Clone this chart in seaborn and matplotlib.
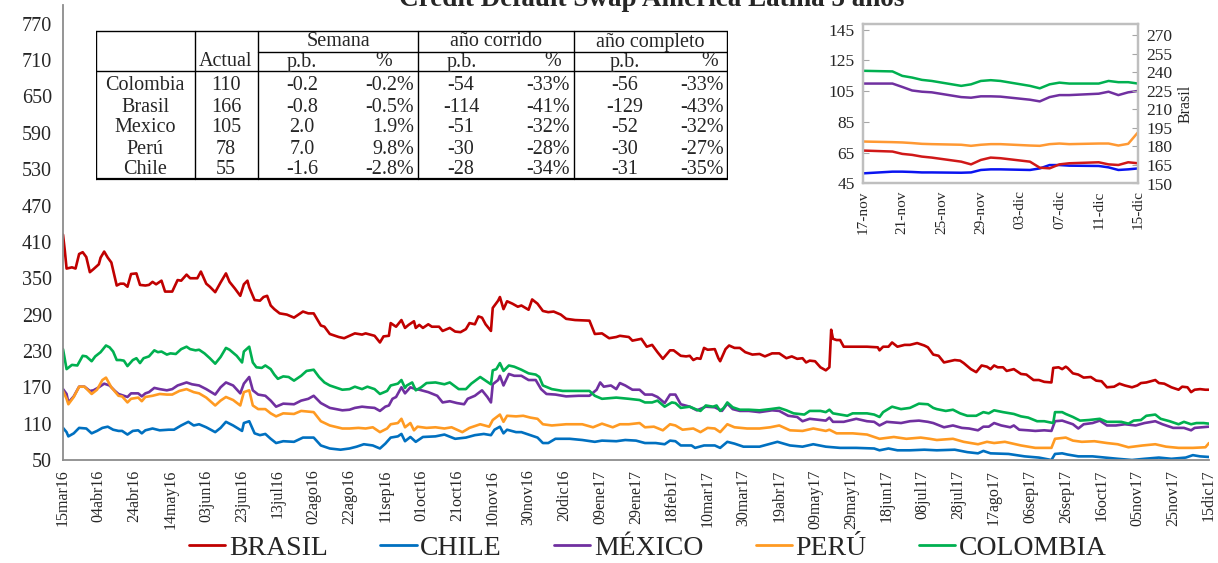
import pandas as pd
import numpy as np
import matplotlib.pyplot as plt
import seaborn as sns
from matplotlib.lines import Line2D

sns.set_style('white')
plt.rcParams['font.family'] = ['Liberation Serif', 'DejaVu Serif']

# --- datos serie principal (dias desde 15mar16, pb) ---
INICIO = pd.Timestamp('2016-03-15')

DIAS_BRASIL = [0, 1, 2, 5, 7, 9, 11, 13, 15, 17, 20, 21, 23, 25, 27, 30, 32, 34, 36, 38, 41, 43, 46, 48, 50, 52, 55, 57, 61, 64, 66, 69, 71, 75, 77, 80, 82, 85, 88, 91, 93, 96, 99, 101, 103, 104, 107, 110, 112, 114, 116, 118, 121, 125, 129, 134, 137, 140, 144, 146, 149, 154, 157,
               163, 167, 169, 174, 177, 179, 182, 183, 186, 189, 191, 193, 196, 197, 199, 201, 204, 206, 210, 212, 216, 219, 222, 225, 227, 230, 232, 234, 236, 239, 240, 241, 243, 244, 246, 248, 251, 254, 256, 260, 262, 265, 268, 271, 274, 278, 281, 286, 294, 297, 301, 305, 309, 311, 316, 318, 323,
               326, 329, 332, 335, 339, 341, 345, 348, 350, 352, 354, 356, 358, 360, 364, 366, 367, 370, 372, 375, 378, 381, 385, 389, 392, 396, 400, 404, 407, 410, 413, 415, 417, 420, 423, 426, 428, 429, 430, 432, 434, 436, 441, 449, 455, 456, 458, 461, 463, 466, 470, 473, 477, 481,
               483, 486, 489, 492, 495, 498, 501, 503, 507, 510, 513, 516, 518, 520, 522, 525, 527, 531, 535, 538, 542, 545, 548, 552, 553, 556, 558, 560, 561, 564, 567, 570, 574, 577, 580, 583, 587, 590, 593, 597, 600, 602, 605, 610, 612, 615, 619, 623, 625, 628, 630, 632, 635, 638, 640]
BRASIL = [422, 396, 366, 368, 366, 390, 393, 385, 360, 365, 373, 384, 394, 384, 376, 338, 341, 341, 336, 357, 358, 339, 338, 339, 344, 340, 346, 328, 328, 347, 346, 356, 350, 350, 361, 341, 336, 327, 343, 358, 344, 333, 321, 340, 346, 335, 314, 313, 319, 321, 305, 299, 292, 290, 285, 295, 292, 292, 272, 270, 258, 253, 251,
          259, 257, 259, 255, 244, 254, 255, 276, 270, 281, 268, 273, 279, 268, 273, 268, 274, 270, 270, 263, 268, 262, 261, 266, 276, 274, 287, 285, 274, 263, 301, 305, 313, 319, 299, 312, 308, 303, 305, 298, 315, 308, 296, 294, 295, 290, 283, 281, 280, 258, 259, 251, 253, 255, 253, 247, 250,
          237, 240, 228, 217, 231, 231, 222, 221, 222, 215, 218, 217, 235, 232, 233, 218, 213, 233, 239, 235, 235, 228, 224, 225, 221, 226, 226, 218, 221, 217, 218, 211, 214, 213, 203, 198, 203, 265, 250, 248, 248, 237, 237, 237, 236, 231, 237, 237, 244, 237, 240, 240, 243, 239,
          236, 224, 222, 211, 213, 215, 214, 210, 200, 195, 206, 204, 200, 206, 203, 203, 197, 200, 192, 191, 182, 182, 179, 178, 202, 203, 200, 204, 202, 193, 191, 186, 187, 181, 180, 170, 171, 176, 173, 170, 173, 177, 178, 182, 177, 176, 170, 166, 171, 170, 162, 166, 167, 166, 166]

DIAS_CHILE = [0, 2, 3, 6, 9, 13, 16, 19, 22, 25, 28, 31, 33, 36, 39, 42, 44, 46, 50, 54, 59, 62, 66, 70, 73, 76, 80, 85, 88, 91, 95, 100, 101, 104, 107, 110, 113, 116, 119, 123, 129, 134, 140, 144, 149, 155, 160,
              164, 168, 173, 177, 180, 183, 187, 189, 191, 194, 197, 201, 208, 213, 219, 225, 230, 235, 239, 241, 244, 246, 248, 253, 256, 261, 265, 268, 271, 275, 283, 290, 297, 301, 309, 314, 320,
              325, 331, 336, 339, 342, 345, 351, 353, 358, 364, 367, 371, 375, 380, 389, 399, 406, 413, 419, 426, 434, 443, 453, 456, 461, 466, 473, 481,
              488, 498, 505, 511, 514, 518, 528, 537, 545, 552, 554, 558, 561, 567, 575, 582, 589, 597, 604, 612, 619, 627, 631, 635, 640]
CHILE = [103, 96, 89, 94, 103, 102, 94, 98, 103, 105, 100, 98, 98, 92, 98, 99, 94, 99, 102, 99, 100, 100, 107, 113, 107, 109, 104, 96, 103, 113, 107, 98, 111, 114, 94, 91, 93, 85, 78, 81, 80, 87, 87, 74, 69, 67, 69,
         72, 76, 74, 69, 77, 87, 89, 93, 81, 88, 80, 88, 89, 92, 85, 87, 91, 93, 91, 100, 105, 94, 100, 96, 96, 91, 87, 78, 78, 85, 85, 83, 80, 82, 81, 83, 82,
         78, 78, 76, 82, 81, 74, 74, 70, 74, 74, 70, 80, 77, 72, 72, 80, 74, 72, 76, 72, 70, 70, 69, 66, 69, 66, 66, 67,
         66, 67, 63, 61, 65, 61, 60, 56, 54, 50, 60, 61, 59, 56, 56, 54, 52, 50, 52, 54, 52, 54, 58, 56, 55]

DIAS_MEXICO = [0, 2, 3, 6, 9, 12, 15, 17, 20, 23, 26, 29, 31, 34, 36, 38, 42, 44, 46, 48, 51, 54, 58, 61, 64, 69, 72, 76, 80, 85, 88, 91, 95, 99, 101, 104, 106, 109, 113, 116, 119, 123, 129, 133, 137, 140, 144, 149, 156, 160,
               163, 167, 170, 174, 177, 180, 182, 184, 186, 189, 191, 194, 197, 199, 204, 209, 212, 216, 220, 224, 226, 230, 234, 237, 239, 240, 243, 244, 246, 249, 252, 256, 260, 264, 267, 270, 275, 281, 288, 294, 298, 300, 302, 306, 309, 311, 314, 318, 322,
               325, 329, 332, 336, 339, 342, 345, 350, 354, 359, 364, 368, 371, 374, 378, 383, 389, 396, 400, 405, 410, 413, 417, 423, 426, 428, 430, 436, 443, 449, 453, 456, 460, 468, 473, 478, 483,
               486, 492, 497, 502, 506, 511, 514, 517, 520, 524, 529, 531, 534, 539, 543, 548, 552, 554, 558, 560, 564, 567, 570, 575, 579, 583, 588, 593, 599, 604, 610, 614, 620, 626, 630, 632, 636, 640]
MEXICO = [167, 159, 145, 155, 171, 171, 164, 165, 170, 176, 173, 164, 159, 156, 154, 160, 160, 155, 160, 162, 169, 167, 165, 167, 173, 178, 175, 173, 167, 158, 170, 178, 173, 160, 176, 187, 165, 158, 156, 148, 138, 143, 142, 148, 151, 156, 144, 136, 132, 133,
          136, 138, 137, 136, 131, 138, 140, 151, 154, 170, 160, 170, 167, 166, 162, 156, 145, 147, 144, 142, 151, 156, 165, 154, 145, 175, 182, 189, 173, 192, 189, 189, 182, 182, 167, 159, 158, 155, 156, 156, 166, 178, 171, 173, 167, 177, 173, 166, 166,
          158, 158, 154, 144, 158, 158, 142, 138, 132, 138, 137, 131, 143, 134, 131, 131, 129, 132, 131, 123, 121, 114, 118, 116, 115, 120, 113, 113, 118, 114, 113, 107, 113, 111, 114, 115, 113,
          111, 104, 107, 103, 102, 99, 105, 105, 111, 107, 104, 107, 100, 99, 98, 99, 98, 114, 115, 113, 109, 102, 109, 111, 115, 107, 107, 109, 107, 111, 114, 109, 103, 103, 99, 103, 104, 105]

DIAS_PERU = [0, 2, 3, 6, 9, 12, 16, 19, 22, 24, 27, 31, 33, 36, 38, 42, 44, 46, 50, 54, 58, 61, 65, 69, 73, 76, 80, 85, 88, 91, 95, 99, 101, 104, 106, 109, 113, 116, 119, 123, 129, 133, 140, 144, 149, 156, 160,
             165, 169, 173, 177, 181, 183, 187, 189, 191, 194, 196, 198, 203, 208, 213, 217, 223, 227, 233, 238, 240, 244, 246, 248, 253, 257, 261, 265, 268, 273, 281, 290, 296, 301, 307, 311, 316, 322,
             325, 330, 335, 339, 342, 346, 352, 356, 360, 364, 367, 371, 375, 382, 389, 395, 400, 406, 413, 419, 426, 428, 432, 441, 449, 456, 464, 471, 479, 484,
             488, 497, 503, 511, 516, 520, 526, 535, 543, 552, 554, 560, 564, 569, 576, 583, 589, 595, 603, 610, 616, 623, 631, 638, 640]
PERU = [164, 151, 142, 154, 171, 171, 159, 166, 182, 186, 170, 156, 155, 145, 151, 153, 147, 154, 156, 159, 158, 158, 164, 167, 162, 160, 153, 140, 148, 154, 149, 140, 162, 165, 140, 134, 134, 127, 122, 127, 126, 131, 129, 114, 107, 102, 102,
        103, 102, 104, 96, 102, 109, 111, 118, 104, 111, 99, 105, 103, 104, 102, 104, 96, 103, 109, 105, 116, 125, 113, 123, 122, 123, 120, 118, 109, 107, 109, 109, 104, 110, 104, 109, 109, 111,
        104, 105, 99, 109, 107, 100, 102, 96, 103, 102, 96, 109, 104, 102, 102, 104, 107, 99, 98, 102, 98, 100, 94, 94, 92, 85, 88, 85, 87, 85,
        83, 85, 80, 76, 80, 78, 80, 74, 70, 70, 85, 87, 82, 80, 81, 78, 76, 71, 74, 76, 72, 70, 70, 71, 78]

DIAS_COLOMBIA = [0, 2, 5, 8, 11, 13, 16, 18, 21, 24, 26, 28, 30, 32, 34, 36, 39, 41, 43, 45, 48, 51, 53, 55, 58, 60, 63, 66, 69, 71, 74, 76, 79, 82, 85, 88, 91, 93, 97, 100, 101, 104, 106, 108, 111, 113, 116, 118, 120, 123, 126, 129, 133, 136, 140, 143, 146, 149, 153, 156, 160,
                 163, 167, 170, 174, 177, 181, 183, 187, 189, 191, 192, 195, 197, 200, 203, 208, 213, 216, 221, 225, 228, 233, 236, 239, 240, 242, 244, 246, 249, 252, 256, 260, 264, 266, 268, 273, 279, 286, 294, 297, 301, 309, 316, 322,
                 325, 329, 332, 336, 340, 342, 345, 350, 354, 356, 359, 363, 365, 367, 369, 371, 374, 378, 383, 389, 395, 400, 404, 408, 414, 417, 423, 426, 428, 430, 434, 438, 441, 449, 453, 456, 458, 463, 468, 473, 478, 483,
                 486, 488, 493, 497, 501, 505, 510, 514, 517, 520, 525, 531, 535, 539, 544, 548, 553, 554, 558, 560, 564, 568, 573, 579, 583, 588, 591, 595, 598, 602, 605, 610, 613, 618, 623, 626, 630, 633, 637, 640]
COLOMBIA = [233, 200, 207, 206, 222, 221, 213, 221, 228, 239, 236, 229, 215, 215, 214, 205, 215, 218, 210, 218, 221, 231, 228, 229, 224, 226, 225, 233, 237, 233, 231, 232, 226, 218, 209, 220, 235, 232, 222, 211, 229, 237, 211, 203, 202, 206, 200, 191, 184, 188, 187, 181, 189, 197, 199, 187, 178, 173, 169, 166, 167,
            171, 167, 171, 167, 159, 164, 173, 176, 182, 169, 173, 178, 165, 170, 177, 178, 175, 178, 167, 167, 176, 187, 181, 175, 198, 200, 210, 197, 206, 204, 199, 193, 191, 187, 173, 167, 164, 164, 164, 156, 151, 153, 151, 149,
            145, 145, 148, 138, 145, 144, 136, 138, 133, 131, 140, 138, 140, 131, 136, 145, 137, 133, 133, 132, 134, 136, 132, 127, 125, 131, 131, 129, 133, 127, 125, 123, 127, 127, 125, 121, 129, 138, 134, 136, 143, 142,
            136, 134, 131, 133, 127, 123, 123, 129, 127, 132, 129, 126, 122, 120, 114, 114, 111, 129, 129, 126, 121, 115, 116, 118, 113, 113, 113, 110, 115, 116, 123, 125, 118, 114, 109, 113, 109, 111, 111, 110]

PAISES = ['BRASIL', 'CHILE', 'MÉXICO', 'PERÚ', 'COLOMBIA']
COLORES = {'BRASIL': '#C00000', 'CHILE': '#0070C0', 'MÉXICO': '#7030A0',
           'PERÚ': '#FF9A22', 'COLOMBIA': '#00B050'}

ETIQ_X = ['15mar16', '04abr16', '24abr16', '14may16', '03jun16', '23jun16', '13jul16',
          '02ago16', '22ago16', '11sep16', '01oct16', '21oct16', '10nov16', '30nov16',
          '20dic16', '09ene17', '29ene17', '18feb17', '10mar17', '30mar17', '19abr17',
          '09may17', '29may17', '18jun17', '08jul17', '28jul17', '17ago17', '06sep17',
          '26sep17', '16oct17', '05nov17', '25nov17', '15dic17']

# --- recuadro: ultimo mes ---
INICIO_Z = pd.Timestamp('2017-11-17')
DIAS_Z = [0, 3, 4, 5, 6, 7, 10, 11, 12, 13, 14, 17, 18, 19, 20, 21, 24, 25, 26, 27, 28]
COLOMBIA_Z = [118.3, 117.9, 115.0, 113.9, 112.4, 111.7, 108.5, 109.5, 111.7, 112.2, 111.7, 108.5, 106.9, 109.5, 110.6, 110.0, 110.0, 111.7, 110.9, 110.9, 110.0]
MEXICO_Z = [110.0, 110.0, 107.8, 105.5, 104.7, 104.3, 101.2, 100.8, 101.7, 101.7, 101.5, 99.5, 98.4, 101.2, 102.5, 102.5, 103.4, 104.7, 102.5, 104.3, 105.2]
PERU_Z = [72.3, 71.9, 71.7, 71.3, 70.8, 70.6, 70.2, 69.5, 70.2, 70.6, 70.6, 69.7, 69.5, 70.6, 71.0, 70.6, 71.0, 71.0, 69.7, 70.8, 78.3]
CHILE_Z = [51.6, 52.7, 52.7, 52.5, 52.2, 52.2, 52.0, 52.2, 53.8, 54.2, 54.2, 53.8, 54.8, 57.0, 57.0, 56.6, 56.4, 55.5, 53.8, 54.2, 54.8]
BRASIL_Z = [176.7, 175.9, 174.0, 173.2, 171.8, 171.0, 167.7, 165.5, 169.1, 171.0, 170.5, 167.7, 162.8, 162.3, 165.5, 166.4, 167.2, 165.5, 165.0, 167.2, 166.4]
COLORES_Z = {'COLOMBIA': '#00B050', 'MÉXICO': '#7030A0', 'PERÚ': '#FF9933',
             'CHILE': '#0A14F0', 'BRASIL': '#D01818'}
ETIQ_Z = ['17-nov', '21-nov', '25-nov', '29-nov', '03-dic', '07-dic', '11-dic', '15-dic']

# --- tabla ---
TAB_PAIS = ['Colombia', 'Brasil', 'Mexico', 'Perú', 'Chile']
TAB_ACTUAL = ['110', '166', '105', '78', '55']
TAB_SEM_PB = ['-0.2', '-0.8', '2.0', '7.0', '-1.6']
TAB_SEM_PCT = ['-0.2%', '-0.5%', '1.9%', '9.8%', '-2.8%']
TAB_AC_PB = ['-54', '-114', '-51', '-30', '-28']
TAB_AC_PCT = ['-33%', '-41%', '-32%', '-28%', '-34%']
TAB_ACO_PB = ['-56', '-129', '-52', '-30', '-31']
TAB_ACO_PCT = ['-33%', '-43%', '-32%', '-27%', '-35%']


def armar(inicio, pares):
    partes = []
    for nombre, dias, vals in pares:
        partes.append(pd.DataFrame({'fecha': inicio + pd.to_timedelta(dias, unit='D'),
                                    'cds': vals, 'pais': nombre}))
    return pd.concat(partes, ignore_index=True)


df = armar(INICIO, [('BRASIL', DIAS_BRASIL, BRASIL), ('CHILE', DIAS_CHILE, CHILE),
                    ('MÉXICO', DIAS_MEXICO, MEXICO), ('PERÚ', DIAS_PERU, PERU),
                    ('COLOMBIA', DIAS_COLOMBIA, COLOMBIA)])

W, H = 1218, 563
fig = plt.figure(figsize=(W / 100, H / 100), dpi=100)

# 1. Grafico principal
ax = fig.add_axes([63 / W, 1 - 460 / H, (1209 - 63) / W, (460 - 5) / H])
sns.lineplot(data=df, x='fecha', y='cds', hue='pais', hue_order=PAISES, palette=COLORES,
             linewidth=1.9, estimator=None, legend=False, ax=ax)
pos_x = pd.date_range(INICIO, periods=len(ETIQ_X), freq='20D')
ax.set_xlim(pos_x[0], pos_x[-1])
ax.set_xticks(pos_x)
ax.set_xticklabels(ETIQ_X, rotation=90)
ax.set_ylim(50, 801)
ax.set_yticks(range(50, 771, 60))
ax.set_xlabel('')
ax.set_ylabel('')
for lado in ['top', 'right']:
    ax.spines[lado].set_visible(False)
for lado in ['left', 'bottom']:
    ax.spines[lado].set_color('#8C8C8C')
    ax.spines[lado].set_linewidth(1.3)
ax.tick_params(direction='in', length=6, width=1.2, color='#8C8C8C')
ax.tick_params(axis='x', labelsize=11.5, pad=7)
ax.tick_params(axis='y', labelsize=14.5, pad=8)

fig.text(0.535, 1 - 6 / H, 'Credit Default Swap América Latina 5 años', ha='center',
         va='baseline', fontsize=19.5, fontweight='bold')

manejadores = [Line2D([], [], color=COLORES[p], lw=2) for p in PAISES]
fig.legend(manejadores, PAISES, loc='center', bbox_to_anchor=(0.532, 0.027), ncol=5,
           frameon=False, fontsize=20, handlelength=1.3, handletextpad=0.12, columnspacing=1.9)

# 2. Tabla
tab = fig.add_axes([96 / W, 1 - 181 / H, (728 - 96) / W, (181 - 30) / H])
tab.set_xlim(96, 728)
tab.set_ylim(181, 30)
tab.axis('off')
k = dict(color='black', lw=1.0)
tab.plot([96, 727], [31, 31], **k)
tab.plot([96, 727], [71, 71], **k)
tab.plot([258, 727], [52, 52], **k)
tab.plot([96, 727], [179, 179], color='black', lw=1.6)
for xv in [96, 195, 258, 418, 574, 727]:
    tab.plot([xv, xv], [31, 179], **k)
fs = 14.5
tab.text(338, 42, 'Semana', ha='center', va='center', fontsize=fs)
tab.text(496, 42, 'año corrido', ha='center', va='center', fontsize=fs)
tab.text(650, 42, 'año completo', ha='center', va='center', fontsize=fs)
for xx, tx in [(226, 'Actual'), (302, 'p.b.'), (384, '%'), (462, 'p.b.'),
               (553, '%'), (625, 'p.b.'), (710, '%')]:
    tab.text(xx, 62, tx, ha='center', va='center', fontsize=fs)
filas_y = [86, 107, 128, 149, 170]
for i, yy in enumerate(filas_y):
    tab.text(145, yy, TAB_PAIS[i], ha='center', va='center', fontsize=fs)
    tab.text(226, yy, TAB_ACTUAL[i], ha='center', va='center', fontsize=fs)
    tab.text(302, yy, TAB_SEM_PB[i], ha='center', va='center', fontsize=fs)
    tab.text(414, yy, TAB_SEM_PCT[i], ha='right', va='center', fontsize=fs)
    tab.text(461, yy, TAB_AC_PB[i], ha='center', va='center', fontsize=fs)
    tab.text(570, yy, TAB_AC_PCT[i], ha='right', va='center', fontsize=fs)
    tab.text(625, yy, TAB_ACO_PB[i], ha='center', va='center', fontsize=fs)
    tab.text(724, yy, TAB_ACO_PCT[i], ha='right', va='center', fontsize=fs)

# 3. Recuadro ultimo mes
dz = armar(INICIO_Z, [('CHILE', DIAS_Z, CHILE_Z), ('PERÚ', DIAS_Z, PERU_Z),
                      ('MÉXICO', DIAS_Z, MEXICO_Z), ('COLOMBIA', DIAS_Z, COLOMBIA_Z)])
dz_br = armar(INICIO_Z, [('BRASIL', DIAS_Z, BRASIL_Z)])
ins = fig.add_axes([863 / W, 1 - 183.5 / H, (1138 - 863) / W, (183.5 - 23.6) / H])
sns.lineplot(data=dz, x='fecha', y='cds', hue='pais', palette=COLORES_Z, linewidth=1.8,
             estimator=None, legend=False, ax=ins)
ins2 = ins.twinx()
sns.lineplot(data=dz_br, x='fecha', y='cds', color=COLORES_Z['BRASIL'], linewidth=1.8,
             estimator=None, legend=False, ax=ins2)
pos_z = pd.date_range(INICIO_Z, periods=len(ETIQ_Z), freq='4D')
ins.set_xlim(pos_z[0], pos_z[-1])
ins.set_xticks(pos_z)
ins.set_xticklabels(ETIQ_Z, rotation=90)
ins.set_ylim(45, 149)
ins.set_yticks(range(45, 146, 20))
ins2.set_ylim(150, 279.6)
ins2.set_yticks(range(150, 271, 15))
ins.set_xlabel('')
ins.set_ylabel('')
ins2.set_ylabel('Brasil', fontsize=11.5, labelpad=4)
for a in (ins, ins2):
    for lado in a.spines:
        a.spines[lado].set_color('#BFBFBF')
        a.spines[lado].set_linewidth(1.6)
ins.tick_params(axis='x', direction='in', length=4, color='#A6A6A6', labelsize=11, pad=5)
ins.tick_params(axis='y', direction='in', length=4, color='#A6A6A6', labelsize=12.5, pad=6)
ins2.tick_params(axis='y', direction='in', length=4, color='#A6A6A6', labelsize=12.5, pad=6)

fig.savefig('out.png', dpi=100)
